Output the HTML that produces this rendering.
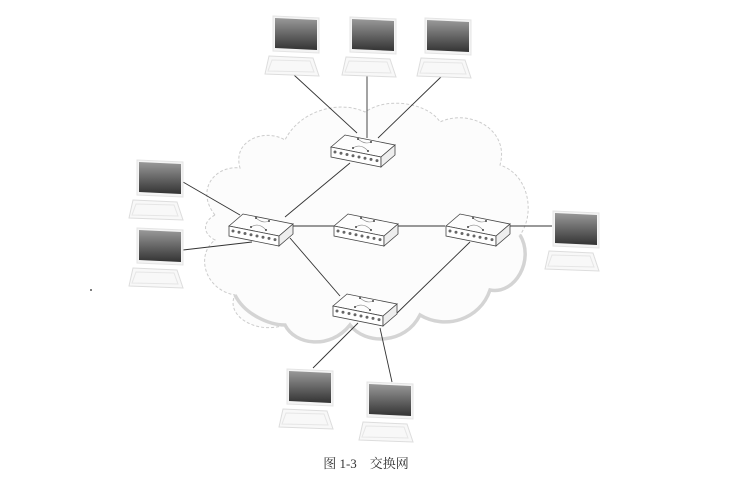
<!DOCTYPE html>
<html><head><meta charset="utf-8"><style>
html,body{margin:0;padding:0;background:#fff;}
svg{display:block;}
</style></head><body>
<svg width="732" height="479" viewBox="0 0 732 479" xmlns="http://www.w3.org/2000/svg">
<defs>
<linearGradient id="scr" x1="0" y1="0" x2="0" y2="1">
<stop offset="0" stop-color="#999"/><stop offset="0.5" stop-color="#666"/><stop offset="1" stop-color="#333"/>
</linearGradient>
<g id="lap">
<polygon points="0,0 46,2 46,37 0,35" fill="#f4f4f4" stroke="#e4e4e4"/>
<polygon points="2,2 44,4 44,34 2,32" fill="url(#scr)"/>
<polygon points="-4,40 40,42 46,60 -8,58" fill="#f8f8f8" stroke="#ddd"/>
<polygon points="-1,44 37,45 41,56 -5,55" fill="none" stroke="#e6e6e6"/>
</g>
<g id="sw">
<polygon points="0,14 14,2 64,12 50,24" fill="#fdfdfd" stroke="#444" stroke-width="0.8"/>
<polygon points="0,14 50,24 50,34 0,24" fill="#fff" stroke="#444" stroke-width="0.8"/>
<polygon points="50,24 64,12 64,22 50,34" fill="#eee" stroke="#444" stroke-width="0.8"/>
<g fill="#666"><circle cx="4" cy="19" r="1.5"/><circle cx="10" cy="20.3" r="1.5"/><circle cx="16" cy="21.5" r="1.5"/><circle cx="22" cy="22.7" r="1.5"/><circle cx="28" cy="24" r="1.5"/><circle cx="34" cy="25.2" r="1.5"/><circle cx="40" cy="26.4" r="1.5"/><circle cx="46" cy="27.6" r="1.5"/></g>
<path d="M27,6 Q34,12 40,9 M22,15 Q30,10 37,18" fill="none" stroke="#888" stroke-width="0.6"/>
<g fill="#444"><circle cx="27" cy="6" r="1"/><circle cx="40" cy="9" r="1"/><circle cx="22" cy="15" r="1"/><circle cx="37" cy="18" r="1"/></g>
</g>
</defs>
<path d="M215,215 C195,190 215,165 240,168 C232,140 265,128 285,140 C300,110 340,100 365,112 C390,95 430,105 440,122 C470,108 510,130 500,165 C530,175 535,215 520,235 C535,260 515,295 490,290 C480,320 445,330 420,315 C405,345 365,345 350,325 C330,350 290,345 285,325 C255,335 225,315 235,295 C205,290 195,255 215,240 C200,232 205,220 215,215 Z" fill="#fcfcfc" stroke="#ccc" stroke-width="1" stroke-dasharray="3,2"/>
<path d="M235,295 C245,315 270,325 285,325 C295,345 330,350 350,325 C365,345 405,345 420,315 C445,330 480,320 490,290 C515,295 535,260 520,235" fill="none" stroke="#d4d4d4" stroke-width="3.5"/>
<g stroke="#333" stroke-width="0.9">
<line x1="294" y1="75" x2="357" y2="133"/>
<line x1="367" y1="75" x2="367" y2="138"/>
<line x1="443" y1="75" x2="378" y2="138"/>
<line x1="183" y1="182" x2="240" y2="215"/>
<line x1="183" y1="250" x2="252" y2="242"/>
<line x1="350" y1="163" x2="285" y2="217"/>
<line x1="293" y1="226" x2="335" y2="226"/>
<line x1="398" y1="226" x2="445" y2="226"/>
<line x1="510" y1="226" x2="552" y2="226"/>
<line x1="290" y1="238" x2="340" y2="296"/>
<line x1="470" y1="242" x2="395" y2="315"/>
<line x1="358" y1="323" x2="313" y2="368"/>
<line x1="380" y1="328" x2="392" y2="382"/>
</g>
<use href="#sw" x="331" y="133"/>
<use href="#sw" x="229" y="212"/>
<use href="#sw" x="334" y="212"/>
<use href="#sw" x="446" y="212"/>
<use href="#sw" x="333" y="292"/>
<use href="#lap" x="273" y="16"/>
<use href="#lap" x="350" y="17"/>
<use href="#lap" x="425" y="18"/>
<use href="#lap" x="137" y="160"/>
<use href="#lap" x="137" y="228"/>
<use href="#lap" x="553" y="211"/>
<use href="#lap" x="287" y="369"/>
<use href="#lap" x="367" y="382"/>
<circle cx="91" cy="290" r="1" fill="#555"/>
<text x="366" y="468" text-anchor="middle" font-family="'Liberation Serif','Noto Serif CJK SC',serif" font-size="13" fill="#333">图 1-3　交换网</text>
</svg>
</body></html>
